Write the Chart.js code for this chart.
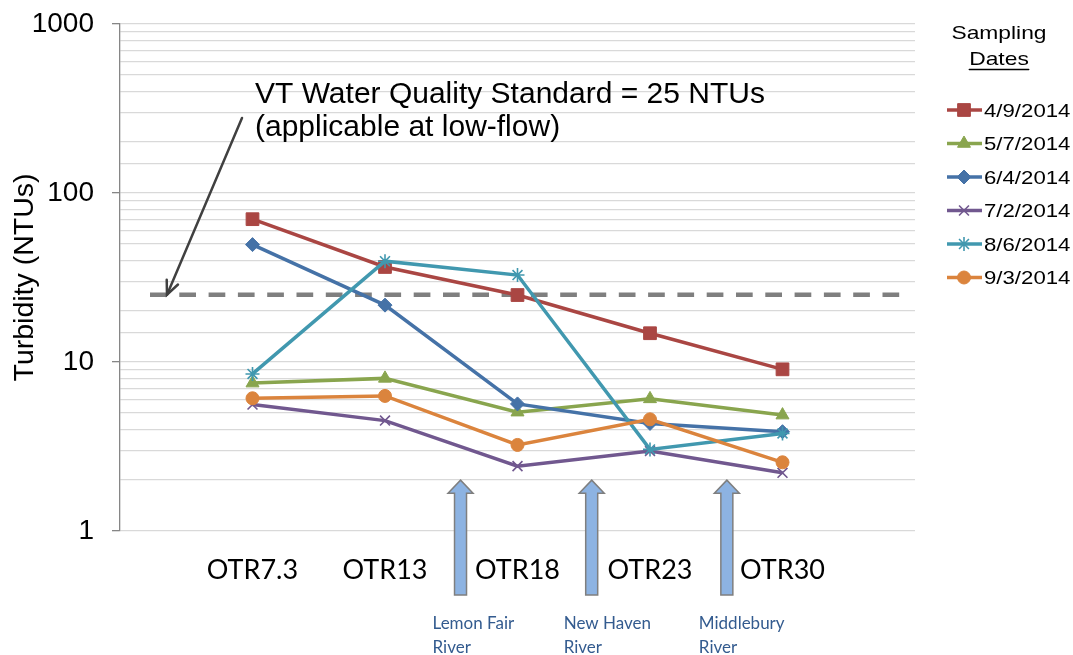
<!DOCTYPE html>
<html><head><meta charset="utf-8">
<script src="https://cdn.jsdelivr.net/npm/chart.js@4.4.0/dist/chart.umd.min.js"></script>
<style>html,body{margin:0;padding:0;background:#fff}#wrap{width:1073px;height:655px;position:relative}</style>
</head><body><div id="wrap"><canvas id="c" width="1073" height="655"></canvas></div>
<script>
// ---- data ----
const sites = ['OTR7.3', 'OTR13', 'OTR18', 'OTR23', 'OTR30'];
const dateLabels = ['4/9/2014', '5/7/2014', '6/4/2014', '7/2/2014', '8/6/2014', '9/3/2014'];
const t0409 = [70, 36.5, 24.9, 14.8, 9.05];
const t0507 = [7.5, 8.0, 5.05, 6.05, 4.85];
const t0604 = [49.5, 21.7, 5.65, 4.33, 3.87];
const t0702 = [5.6, 4.5, 2.42, 2.97, 2.21];
const t0806 = [8.5, 39.5, 32.7, 3.04, 3.78];
const t0903 = [6.1, 6.3, 3.23, 4.58, 2.55];
const yTicks = [1, 10, 100, 1000];
const standard = 25;
const standardText = ['VT Water Quality Standard = 25 NTUs', '(applicable at low-flow)'];
const rivers = [['Lemon Fair', 'River'], ['New Haven', 'River'], ['Middlebury', 'River']];
const riverPos = [2.57, 3.56, 4.58];

// ---- styling ----
const series = [t0409, t0507, t0604, t0702, t0806, t0903];
const colors = ['#AA4643', '#89A54E', '#4572A7', '#71588F', '#4198AF', '#DB843D'];
const styles = ['rect', 'triangle', 'rectRot', 'crossRot', 'star', 'circle'];
const radii = [9, 7.5, 7, 7, 7, 6.5];
const bws = [1, 1, 1, 1.6, 1.6, 1];
const labels = ['', ...sites, ''];
const pad = a => [null, ...a, null];

const datasets = series.map((d, i) => ({
  label: dateLabels[i], data: pad(d),
  borderColor: colors[i], backgroundColor: colors[i],
  pointStyle: styles[i], pointRadius: radii[i], pointBorderWidth: bws[i],
  pointBackgroundColor: colors[i], pointBorderColor: colors[i],
  borderWidth: 3.5, tension: 0, order: 10 - i
}));

function sText(ctx, txt, x, y, sx) {
  ctx.save(); ctx.translate(x, y); ctx.scale(sx, 1); ctx.fillText(txt, 0, 0); ctx.restore();
}

const deco = {
  id: 'deco',
  beforeDatasetsDraw(chart) {
    const ctx = chart.ctx, y = chart.scales.y.getPixelForValue(standard);
    ctx.save();
    ctx.strokeStyle = '#7F7F7F'; ctx.lineWidth = 4.5; ctx.setLineDash([16.7, 12.6]);
    ctx.beginPath(); ctx.moveTo(150, y); ctx.lineTo(900, y); ctx.stroke();
    ctx.restore();
  },
  afterDraw(chart) {
    const ctx = chart.ctx, xs = chart.scales.x, ys = chart.scales.y;
    ctx.save();
    // annotation text
    ctx.fillStyle = '#000'; ctx.font = '30px "Liberation Sans", Arial, sans-serif';
    ctx.textAlign = 'left'; ctx.textBaseline = 'alphabetic';
    ctx.fillText(standardText[0], 255, 103);
    ctx.fillText(standardText[1], 255, 136);
    // annotation arrow
    const sx = 242, sy = 118, ex = 167, ey = ys.getPixelForValue(standard);
    ctx.strokeStyle = '#404040'; ctx.lineWidth = 2.5; ctx.lineCap = 'round';
    ctx.beginPath(); ctx.moveTo(sx, sy); ctx.lineTo(ex, ey); ctx.stroke();
    const ang = Math.atan2(ey - sy, ex - sx), hl = 15, ha = 0.42;
    ctx.beginPath();
    ctx.moveTo(ex - hl * Math.cos(ang - ha), ey - hl * Math.sin(ang - ha));
    ctx.lineTo(ex, ey);
    ctx.lineTo(ex - hl * Math.cos(ang + ha), ey - hl * Math.sin(ang + ha));
    ctx.stroke();
    // tributary block arrows + labels
    const tipY = ys.getPixelForValue(2), botY = 595;
    riverPos.forEach((p, i) => {
      const cx = xs.getPixelForValue(p);
      ctx.beginPath();
      ctx.moveTo(cx, tipY);
      ctx.lineTo(cx + 12.5, tipY + 13);
      ctx.lineTo(cx + 6, tipY + 13);
      ctx.lineTo(cx + 6, botY);
      ctx.lineTo(cx - 6, botY);
      ctx.lineTo(cx - 6, tipY + 13);
      ctx.lineTo(cx - 12.5, tipY + 13);
      ctx.closePath();
      ctx.fillStyle = '#8DB3E2'; ctx.fill();
      ctx.strokeStyle = '#7F7F7F'; ctx.lineWidth = 1.5; ctx.lineJoin = 'miter'; ctx.stroke();
      ctx.fillStyle = '#335B8F'; ctx.font = '17px Lato, sans-serif';
      ctx.textAlign = 'left'; ctx.textBaseline = 'middle';
      ctx.fillText(rivers[i][0], cx - 28, 624);
      ctx.fillText(rivers[i][1], cx - 28, 648);
    });
    // legend
    ctx.fillStyle = '#000'; ctx.textAlign = 'center'; ctx.textBaseline = 'alphabetic';
    ctx.font = '19px "Liberation Sans", Arial, sans-serif';
    sText(ctx, 'Sampling', 999, 39, 1.2);
    sText(ctx, 'Dates', 999, 65, 1.2);
    const dw = ctx.measureText('Dates').width * 1.2;
    ctx.strokeStyle = '#000'; ctx.lineWidth = 1.3;
    ctx.beginPath(); ctx.moveTo(999 - dw / 2, 69.5); ctx.lineTo(999 + dw / 2, 69.5); ctx.stroke();
    ctx.font = '18.5px "Liberation Sans", Arial, sans-serif'; ctx.textAlign = 'left';
    dateLabels.forEach((lab, i) => {
      const y = 110 + i * 33.5;
      ctx.strokeStyle = colors[i]; ctx.lineWidth = 3.5; ctx.lineCap = 'butt';
      ctx.beginPath(); ctx.moveTo(947, y); ctx.lineTo(982, y); ctx.stroke();
      ctx.fillStyle = colors[i]; ctx.lineWidth = bws[i];
      Chart.helpers.drawPoint(ctx, {pointStyle: styles[i], radius: radii[i], rotation: 0, borderWidth: bws[i]}, 964, y);
      ctx.fillStyle = '#000';
      sText(ctx, lab, 984, y + 6.7, 1.2);
    });
    ctx.restore();
  }
};

new Chart(document.getElementById('c'), {
  type: 'line',
  data: {labels, datasets},
  plugins: [deco],
  options: {
    responsive: false, animation: false, devicePixelRatio: 1,
    layout: {padding: {top: 24, right: 158, left: 0, bottom: 0}},
    plugins: {legend: {display: false}, tooltip: {enabled: false}},
    scales: {
      x: {
        type: 'category', offset: false,
        grid: {display: false, drawTicks: false}, border: {display: false},
        ticks: {autoSkip: false, maxRotation: 0, font: {family: 'Lato', size: 27}, color: '#000', padding: 23},
        afterFit(s) { s.height = 124; s.paddingLeft = 0; s.paddingRight = 0; }
      },
      y: {
        type: 'logarithmic', min: 1, max: 1000,
        grid: {color: '#D9D9D9', lineWidth: 1.3, tickLength: 8,
          tickColor: c => (c.tick && yTicks.includes(c.tick.value)) ? '#868686' : 'rgba(0,0,0,0)'},
        border: {color: '#868686', width: 1.3},
        ticks: {autoSkip: false, font: {family: 'Liberation Sans', size: 28}, color: '#000', padding: 18,
          callback: v => yTicks.includes(v) ? String(v) : ''},
        title: {display: true, text: 'Turbidity (NTUs)', font: {family: 'Liberation Sans', size: 28.5}, color: '#000', padding: {top: 8, bottom: 0}},
        afterFit(s) { s.width = 120; s.paddingTop = 0; s.paddingBottom = 0; }
      }
    }
  }
});
</script></body></html>
